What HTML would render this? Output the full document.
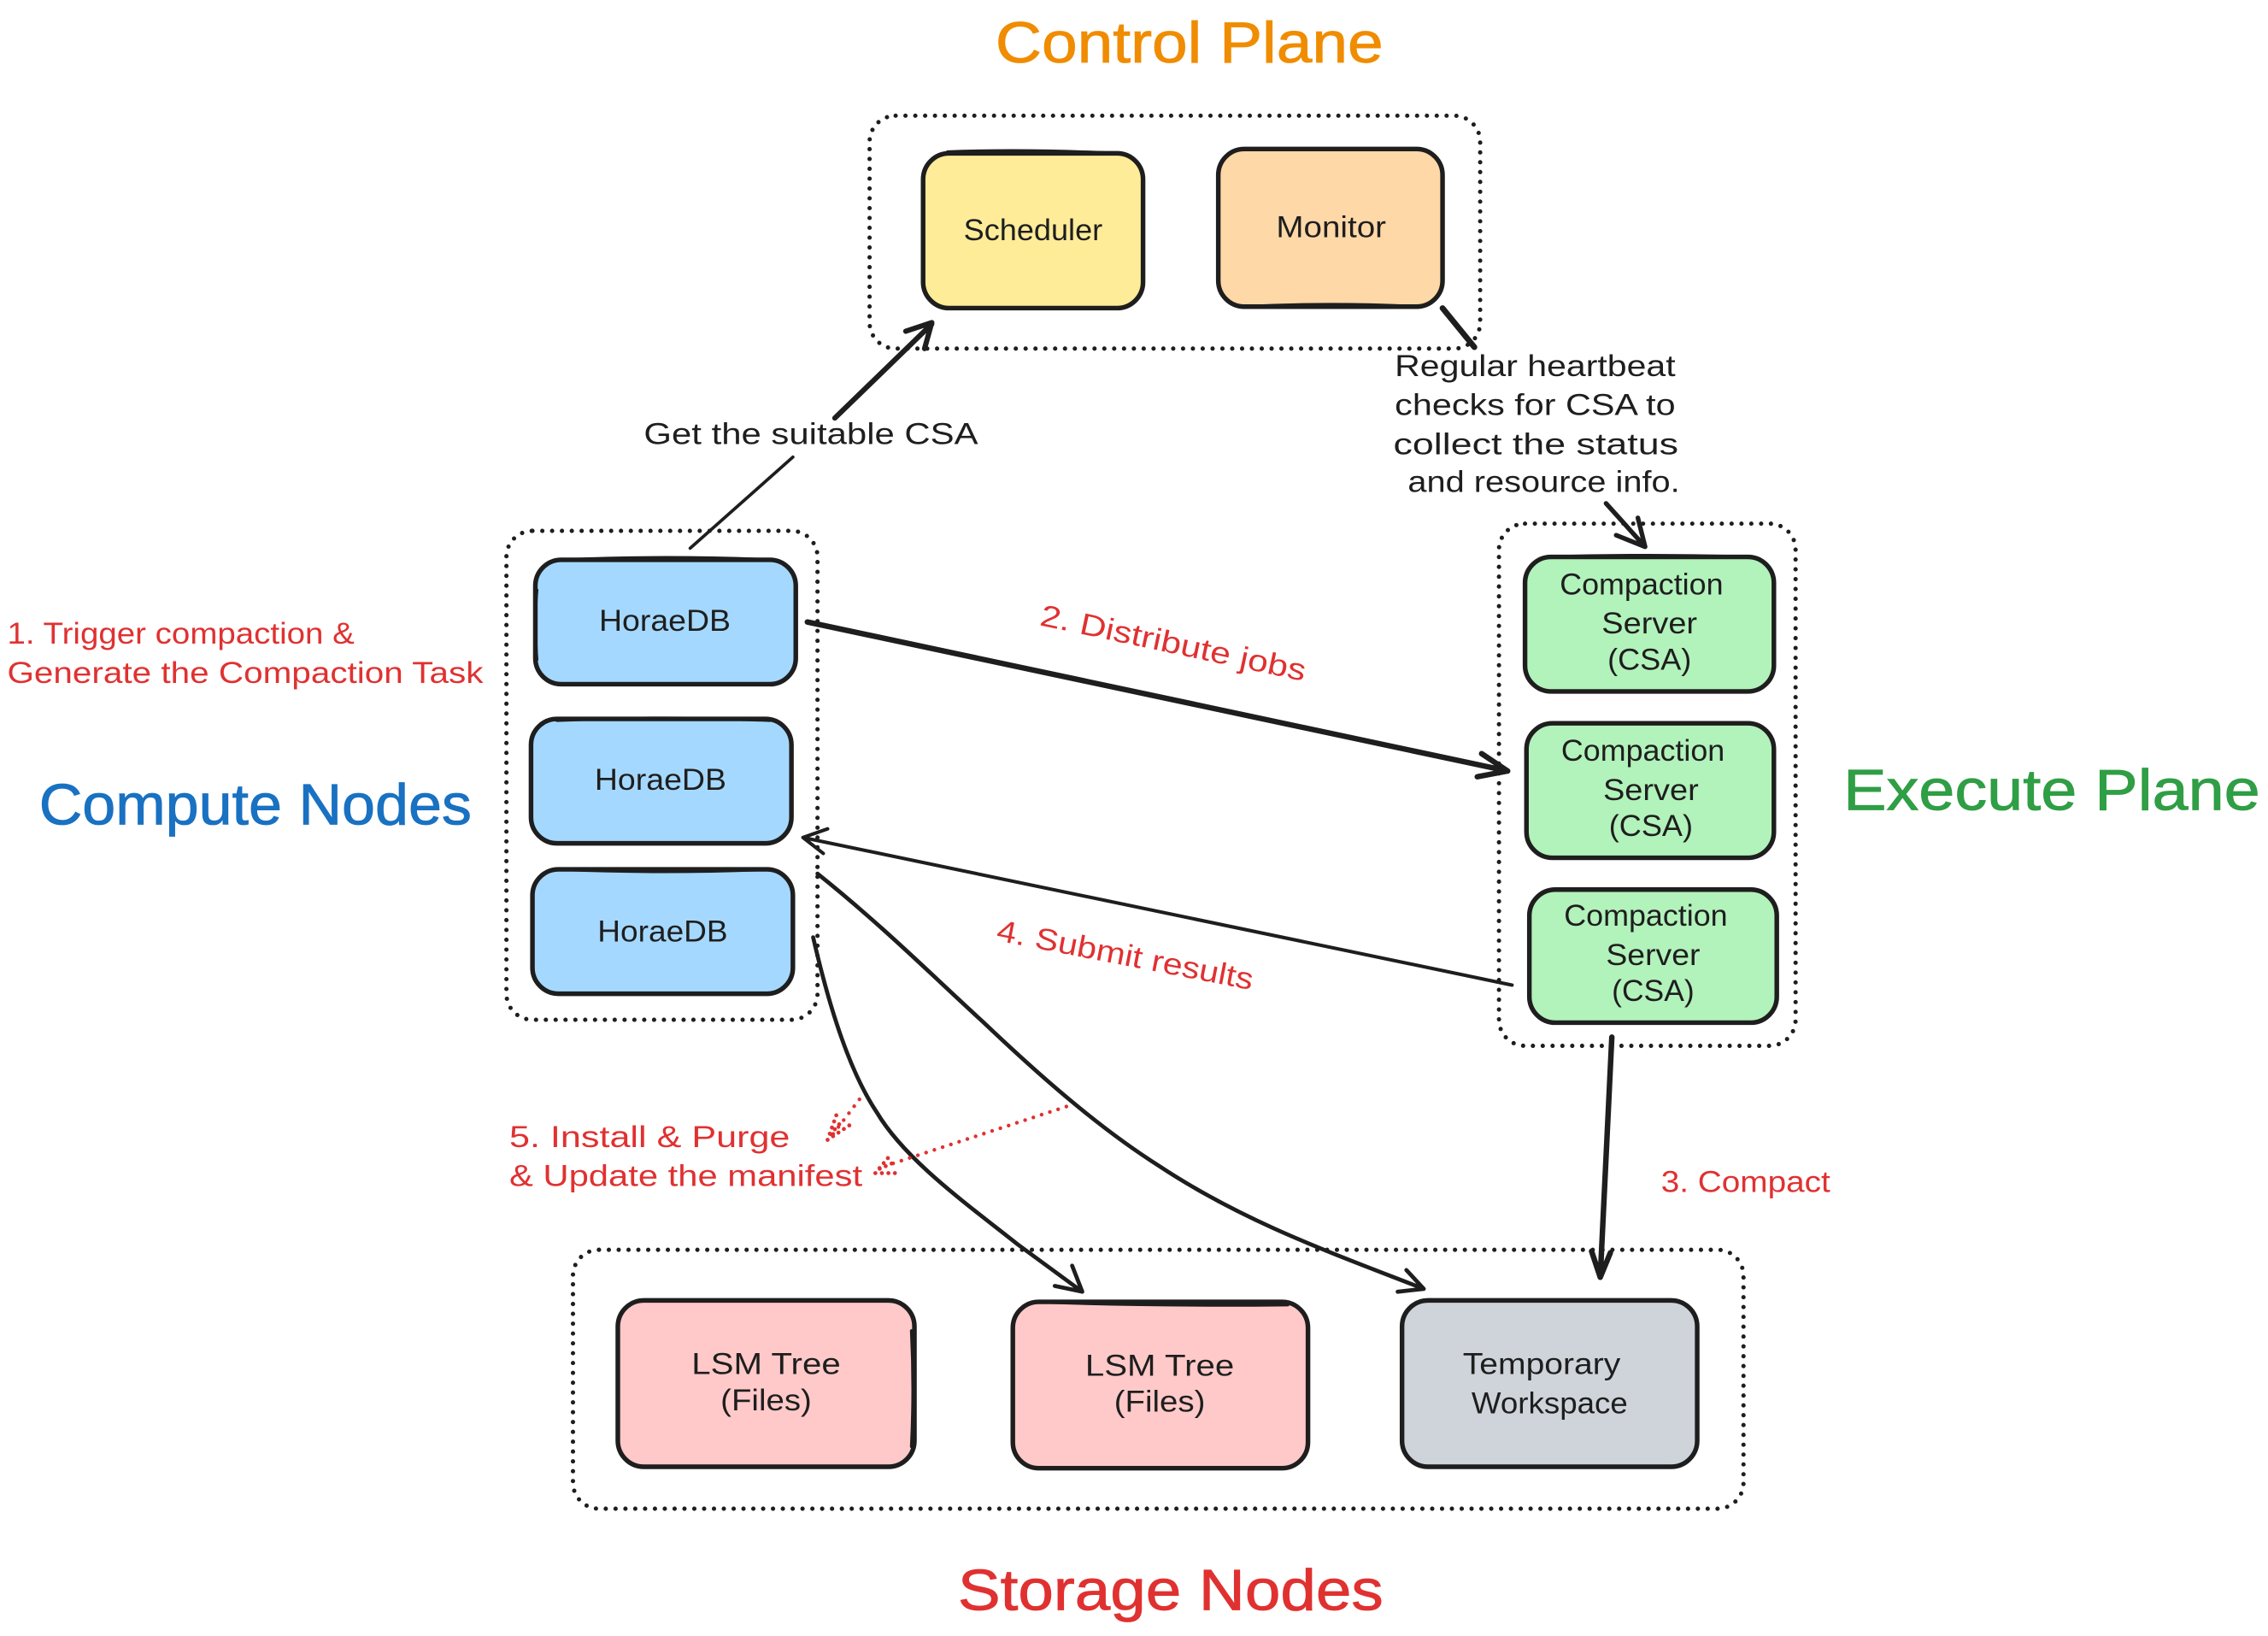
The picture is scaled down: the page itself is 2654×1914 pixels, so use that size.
<!DOCTYPE html>
<html><head><meta charset="utf-8"><style>
html,body{margin:0;padding:0;background:#fff}
svg{display:block}
text{font-family:"Liberation Sans",sans-serif}
.l{font-size:21px;fill:#1e1e1e}
.r{font-size:21px;fill:#e03131}
.t{font-size:40px;stroke-width:.5}
.b{stroke:#1e1e1e;stroke-width:3.2}
.d{fill:none;stroke:#1e1e1e;stroke-width:3;stroke-dasharray:0 6.8;stroke-linecap:round}
.a{fill:none;stroke:#1e1e1e;stroke-linecap:round;stroke-linejoin:round}
.rd{fill:none;stroke:#e03131;stroke-width:2.6;stroke-dasharray:0 6;stroke-linecap:round}
.rh{fill:none;stroke:#e03131;stroke-width:2.8;stroke-dasharray:0 4.5;stroke-linecap:round}
.w{fill:none;stroke:#1e1e1e;stroke-width:2.2;stroke-linecap:round}
</style></head><body>
<svg xmlns="http://www.w3.org/2000/svg" width="2654" height="1914" viewBox="0 0 1567.5 1131" preserveAspectRatio="none">
<rect width="1567.5" height="1131" fill="#fff"/>
<!-- dotted groups -->
<rect class="d" x="601" y="80" width="422" height="161" rx="18"/>
<rect class="d" x="350" y="367" width="215" height="338" rx="18"/>
<rect class="d" x="1036" y="362" width="205" height="361" rx="18"/>
<rect class="d" x="396" y="864" width="809" height="179" rx="18"/>
<!-- boxes -->
<rect class="b" x="638" y="106" width="152" height="107" rx="18" fill="#ffec99"/>
<rect class="b" x="842" y="103" width="155" height="109" rx="18" fill="#ffd8a8"/>
<rect class="b" x="370" y="387" width="180" height="86" rx="18" fill="#a5d8ff"/>
<rect class="b" x="367" y="497" width="180" height="86" rx="18" fill="#a5d8ff"/>
<rect class="b" x="368" y="601" width="180" height="86" rx="18" fill="#a5d8ff"/>
<rect class="b" x="1054" y="385" width="172" height="93" rx="18" fill="#b2f2bb"/>
<rect class="b" x="1055" y="500" width="171" height="93" rx="18" fill="#b2f2bb"/>
<rect class="b" x="1057" y="615" width="171" height="92" rx="18" fill="#b2f2bb"/>
<rect class="b" x="427" y="899" width="205" height="115" rx="18" fill="#ffc9c9"/>
<rect class="b" x="700" y="900" width="204" height="115" rx="18" fill="#ffc9c9"/>
<rect class="b" x="969" y="899" width="204" height="115" rx="18" fill="#ced4da"/>
<!-- hand-drawn double edges -->
<path class="w" d="M655 105Q710 103 770 106M371 408Q369 430 371 456M390 387Q460 384 532 387M385 498Q460 495 532 498M386 601Q458 604 532 601M1070 385Q1140 383 1210 385M715 900Q800 903 890 902M630 920Q632 960 630 1000M860 212Q920 209 980 212"/>
<!-- arrows -->
<path class="a" stroke-width="2.2" d="M477 379L548 316"/>
<path class="a" stroke-width="3.6" d="M577 289L644 224M626 229L644 223L639 241"/>
<path class="a" stroke-width="4" d="M997 213L1019 240"/>
<path class="a" stroke-width="3.2" d="M1110 348L1137 378M1117 370L1137 378L1132 358"/>
<path class="a" stroke-width="3.8" d="M558 430L1042 533M1024 521L1042 533L1021 537"/>
<path class="a" stroke-width="2.4" d="M1045 681L555 579M572 573L555 579L569 590"/>
<path class="a" stroke-width="3.8" d="M1114 717L1106 883M1100 865L1106 883L1113 866"/>
<path class="a" stroke-width="2.8" d="M562 648C574 700 588 742 606 769C625 801 665 830 703 860L748 893M729 889L748 893L741 875"/>
<path class="a" stroke-width="2.8" d="M565 604C610 640 645 675 680 707C720 745 760 780 801 806C860 845 920 866 984 891M966 893L984 891L972 878"/>
<path class="rd" d="M594 760L575 785"/>
<path class="rh" d="M572 788L578 771M572 788L587 778M574 784L582 775"/>
<path class="rd" d="M737 765L612 806"/>
<path class="rh" d="M605 811L615 799M605 811L619 811M608 808L617 804"/>
<!-- titles -->
<text class="t" x="688" y="43" textLength="268" lengthAdjust="spacingAndGlyphs" fill="#f08c00" stroke="#f08c00">Control Plane</text>
<text class="t" x="27" y="570" textLength="299" lengthAdjust="spacingAndGlyphs" fill="#1971c2" stroke="#1971c2">Compute Nodes</text>
<text class="t" x="1274" y="560" textLength="288" lengthAdjust="spacingAndGlyphs" fill="#2f9e44" stroke="#2f9e44">Execute Plane</text>
<text class="t" x="662" y="1113" textLength="294" lengthAdjust="spacingAndGlyphs" fill="#e03131" stroke="#e03131">Storage Nodes</text>
<!-- node labels -->
<text class="l" x="666" y="166" textLength="96" lengthAdjust="spacingAndGlyphs">Scheduler</text>
<text class="l" x="882" y="164" textLength="76" lengthAdjust="spacingAndGlyphs">Monitor</text>
<text class="l" x="414" y="436" textLength="91" lengthAdjust="spacingAndGlyphs">HoraeDB</text>
<text class="l" x="411" y="546" textLength="91" lengthAdjust="spacingAndGlyphs">HoraeDB</text>
<text class="l" x="413" y="651" textLength="90" lengthAdjust="spacingAndGlyphs">HoraeDB</text>
<text class="l" x="1078" y="411" textLength="113" lengthAdjust="spacingAndGlyphs">Compaction</text>
<text class="l" x="1107" y="438" textLength="66" lengthAdjust="spacingAndGlyphs">Server</text>
<text class="l" x="1111" y="463" textLength="58" lengthAdjust="spacingAndGlyphs">(CSA)</text>
<text class="l" x="1079" y="526" textLength="113" lengthAdjust="spacingAndGlyphs">Compaction</text>
<text class="l" x="1108" y="553" textLength="66" lengthAdjust="spacingAndGlyphs">Server</text>
<text class="l" x="1112" y="578" textLength="58" lengthAdjust="spacingAndGlyphs">(CSA)</text>
<text class="l" x="1081" y="640" textLength="113" lengthAdjust="spacingAndGlyphs">Compaction</text>
<text class="l" x="1110" y="667" textLength="65" lengthAdjust="spacingAndGlyphs">Server</text>
<text class="l" x="1114" y="692" textLength="57" lengthAdjust="spacingAndGlyphs">(CSA)</text>
<text class="l" x="478" y="950" textLength="103" lengthAdjust="spacingAndGlyphs">LSM Tree</text>
<text class="l" x="498" y="975" textLength="63" lengthAdjust="spacingAndGlyphs">(Files)</text>
<text class="l" x="750" y="951" textLength="103" lengthAdjust="spacingAndGlyphs">LSM Tree</text>
<text class="l" x="770" y="976" textLength="63" lengthAdjust="spacingAndGlyphs">(Files)</text>
<text class="l" x="1011" y="950" textLength="109" lengthAdjust="spacingAndGlyphs">Temporary</text>
<text class="l" x="1017" y="977" textLength="108" lengthAdjust="spacingAndGlyphs">Workspace</text>
<!-- connector labels -->
<text class="l" x="445" y="307" textLength="231" lengthAdjust="spacingAndGlyphs">Get the suitable CSA</text>
<text class="l" x="964" y="260" textLength="194" lengthAdjust="spacingAndGlyphs">Regular heartbeat</text>
<text class="l" x="964" y="287" textLength="194" lengthAdjust="spacingAndGlyphs">checks for CSA to</text>
<text class="l" x="963" y="314" textLength="197" lengthAdjust="spacingAndGlyphs">collect the status</text>
<text class="l" x="973" y="340" textLength="188" lengthAdjust="spacingAndGlyphs">and resource info.</text>
<text class="r" x="5" y="445" textLength="240" lengthAdjust="spacingAndGlyphs">1. Trigger compaction &amp;</text>
<text class="r" x="5" y="472" textLength="329" lengthAdjust="spacingAndGlyphs">Generate the Compaction Task</text>
<text class="r" x="1148" y="824" textLength="117" lengthAdjust="spacingAndGlyphs">3. Compact</text>
<text class="r" x="352" y="793" textLength="194" lengthAdjust="spacingAndGlyphs">5. Install &amp; Purge</text>
<text class="r" x="352" y="820" textLength="244" lengthAdjust="spacingAndGlyphs">&amp; Update the manifest</text>
<text class="r" transform="translate(718 432) rotate(12)" textLength="187" lengthAdjust="spacingAndGlyphs">2. Distribute jobs</text>
<text class="r" transform="translate(688 650) rotate(11)" textLength="180" lengthAdjust="spacingAndGlyphs">4. Submit results</text>
</svg>
</body></html>
